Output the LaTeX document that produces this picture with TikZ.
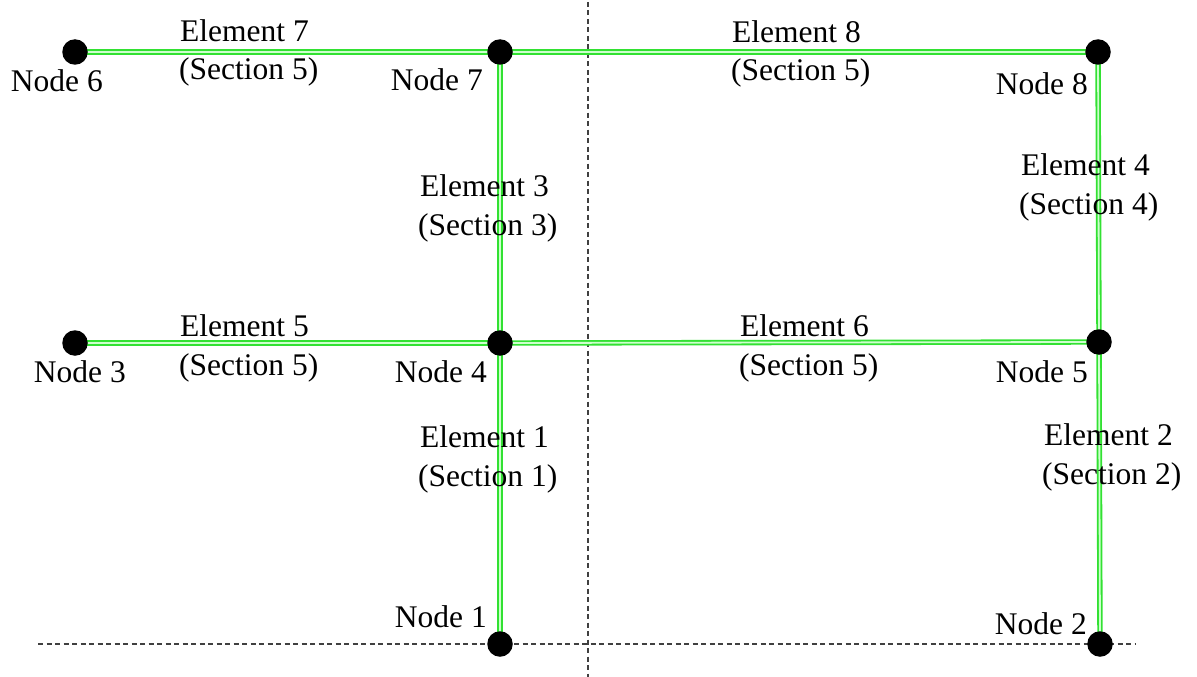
\documentclass[tikz,border=0pt]{standalone}
\usepackage{fontspec}
\setmainfont{Liberation Serif}
\begin{document}
\begin{tikzpicture}[x=1pt,y=-1pt,
  dot/.style={circle,fill=black,inner sep=0pt,minimum size=25.5pt},
  member/.style={draw={rgb,255:red,50;green,225;blue,50},line width=1.8pt,double={rgb,255:red,205;green,255;blue,205},double distance=1.8pt},
  axisline/.style={draw=black!75,line width=1.3pt,dash pattern=on 5pt off 3.5pt},
  lbl/.style={inner sep=0pt,font=\fontsize{31.5}{36}\selectfont}]
\useasboundingbox (0,0) rectangle (1197,677);
% axes
\coordinate (va) at (588,2);
\coordinate (vb) at (588,677);
\coordinate (ha) at (38,644);
\coordinate (hb) at (1136,644);
\draw[axisline] (va) -- (vb);
\draw[axisline] (ha) -- (hb);
% node positions
\coordinate (p1) at (500,644);
\coordinate (p2) at (1100,644);
\coordinate (p3) at (75,343);
\coordinate (p4) at (500,343);
\coordinate (p5) at (1099,342);
\coordinate (p6) at (75,52);
\coordinate (p7) at (500,52);
\coordinate (p8) at (1098,52);
% members
\draw[member] (p6) -- (p7);
\draw[member] (p7) -- (p8);
\draw[member] (p3) -- (p4);
\draw[member] (p4) -- (p5);
\draw[member] (p7) -- (p4);
\draw[member] (p4) -- (p1);
\draw[member] (p8) -- (p5);
\draw[member] (p5) -- (p2);
% dots
\node[dot] (n1) at (p1) {};
\node[dot] (n2) at (p2) {};
\node[dot] (n3) at (p3) {};
\node[dot] (n4) at (p4) {};
\node[dot] (n5) at (p5) {};
\node[dot] (n6) at (p6) {};
\node[dot] (n7) at (p7) {};
\node[dot] (n8) at (p8) {};
% node labels
\node[lbl,anchor=base east] (l6) at (103,92) {Node 6};
\node[lbl,anchor=base east] (l7) at (483,91) {Node 7};
\node[lbl,anchor=base east] (l8) at (1088,94) {Node 8};
\node[lbl,anchor=base east] (l3) at (126,382) {Node 3};
\node[lbl,anchor=base east] (l4) at (487,382) {Node 4};
\node[lbl,anchor=base east] (l5) at (1088,382) {Node 5};
\node[lbl,anchor=base east] (l1) at (487,627) {Node 1};
\node[lbl,anchor=base east] (l2) at (1087,634) {Node 2};
% element labels
\node[lbl,anchor=base west] (e7a) at (180,42) {Element 7};
\node[lbl,anchor=base west] (e7b) at (179,80) {(Section 5)};
\node[lbl,anchor=base west] (e8a) at (732,43) {Element 8};
\node[lbl,anchor=base west] (e8b) at (731,81) {(Section 5)};
\node[lbl,anchor=base west] (e3a) at (420,196) {Element 3};
\node[lbl,anchor=base west] (e3b) at (418,235) {(Section 3)};
\node[lbl,anchor=base west] (e4a) at (1021,175) {Element 4};
\node[lbl,anchor=base west] (e4b) at (1019,214) {(Section 4)};
\node[lbl,anchor=base west] (e5a) at (180,336) {Element 5};
\node[lbl,anchor=base west] (e5b) at (179,375) {(Section 5)};
\node[lbl,anchor=base west] (e6a) at (740,336) {Element 6};
\node[lbl,anchor=base west] (e6b) at (739,375) {(Section 5)};
\node[lbl,anchor=base west] (e1a) at (420,447) {Element 1};
\node[lbl,anchor=base west] (e1b) at (418,486) {(Section 1)};
\node[lbl,anchor=base west] (e2a) at (1044,445) {Element 2};
\node[lbl,anchor=base west] (e2b) at (1042,484) {(Section 2)};
\end{tikzpicture}
\end{document}
